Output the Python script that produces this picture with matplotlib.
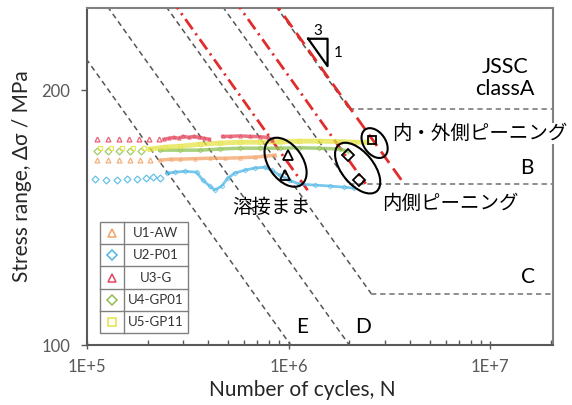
import numpy as np
import matplotlib
matplotlib.use('Agg')
import matplotlib.pyplot as plt
from matplotlib.patches import Ellipse, Rectangle
from matplotlib.transforms import ScaledTranslation
from matplotlib.ticker import FixedLocator, FixedFormatter, LogLocator, NullLocator, NullFormatter

plt.rcParams['font.family'] = ['Lato', 'Noto Sans CJK JP', 'DejaVu Sans']

# JSSC design curves (strength at 2e6 cycles, constant amplitude cut-off)
jssc_classes = ['A', 'B', 'C', 'D', 'E']
jssc_delta_f = [190, 155, 125, 100, 80]
jssc_cutoff = [190, 155, 115, 84, 62]

# fitted lines of test results (strength at 2e6, last cycle count)
fit_delta_f = [130, 165, 191]
fit_n_end = [1.25e6, 2.41e6, 3.63e6]

# measured stress range histories
u1_n = [1.12e5, 1.27e5, 1.44e5, 1.63e5, 1.83e5, 2.05e5,
        2.30e5, 2.60e5, 2.88e5, 3.43e5, 4.06e5, 4.82e5, 5.72e5, 6.79e5, 7.61e5, 8.53e5]
u1_s = [165.3, 165.3, 165.3, 165.3, 165.3, 165.3,
        165.3, 165.8, 165.8, 166.0, 166.2, 166.2, 166.4, 166.7, 167.1, 167.6]
u1_sparse = 6

u2_n = [1.10e5, 1.24e5, 1.41e5, 1.58e5, 1.77e5, 1.96e5, 2.12e5, 2.30e5,
        2.49e5, 2.73e5, 3.06e5, 3.50e5, 3.75e5, 4.06e5, 4.30e5, 4.66e5, 4.99e5, 5.40e5,
        6.06e5, 6.79e5, 7.61e5, 8.24e5, 9.02e5, 1.01e6, 1.13e6, 1.35e6, 1.60e6, 1.89e6, 2.12e6]
u2_s = [157.0, 156.6, 156.6, 157.0, 157.0, 157.4, 157.8, 157.4,
        159.6, 160.0, 160.4, 160.0, 156.6, 154.1, 152.4, 154.1, 157.4, 159.6,
        160.9, 161.8, 162.2, 160.9, 158.7, 156.6, 154.9, 154.5, 154.1, 153.6, 153.2]
u2_sparse = 8

u3_n = [1.12e5, 1.27e5, 1.44e5, 1.61e5, 1.81e5, 2.03e5, 2.27e5,
        2.41e5, 2.55e5, 2.70e5, 2.85e5, 3.00e5, 3.20e5, 3.40e5, 3.60e5, 3.80e5, 4.05e5,
        np.nan, 4.71e5, 5.10e5, 5.72e5, 6.41e5, 7.18e5, 7.86e5, 8.30e5]
u3_s = [175.0, 175.0, 175.0, 175.0, 175.0, 175.0, 175.0,
        175.0, 175.5, 175.9, 175.5, 176.4, 175.9, 176.4, 175.9, 175.5, 175.0,
        np.nan, 176.4, 176.4, 176.6, 176.4, 176.2, 175.9, 174.6]
u3_sparse = 7

u4_n = [1.12e5, 1.27e5, 1.44e5, 1.63e5, 1.85e5,
        2.30e5, 2.88e5, 3.63e5, 4.55e5, 5.72e5, 7.18e5, 9.02e5, 1.13e6, 1.42e6, 1.79e6, 1.96e6]
u4_s = [169.5, 169.5, 169.5, 169.5, 169.5,
        169.9, 169.9, 169.9, 170.4, 170.8, 170.8, 170.8, 171.0, 170.8, 170.4, 169.5]
u4_sparse = 5

u5_n = [1.16e5, 1.31e5, 1.50e5, 1.70e5, 1.92e5,
        2.05e5, 2.43e5, 2.88e5, 3.63e5, 4.55e5, 5.72e5, 7.18e5, 9.02e5, 1.13e6, 1.42e6,
        1.79e6, 2.12e6, 2.46e6]
u5_s = [170.8, 170.8, 170.8, 170.8, 170.8,
        170.4, 171.3, 171.7, 172.6, 173.2, 173.6, 173.6, 173.9, 174.1, 174.1,
        173.9, 173.6, 173.6]
u5_sparse = 5

series_labels = ['U1-AW', 'U2-P01', 'U3-G', 'U4-GP01', 'U5-GP11']
series_colors = ['#F2A266', '#4DB6E6', '#E4465E', '#8CC152', '#E3E345']
series_markers = ['^', 'D', '^', 'D', 's']

# failure points
fail_n = [9.88e5, 9.55e5, 1.96e6, 2.24e6, 2.58e6]
fail_s = [167.6, 158.7, 167.6, 156.6, 174.6]
fail_markers = ['^', '^', 'D', 'D', 's']

fig = plt.figure(figsize=(5.72, 4.05), dpi=100)
ax = fig.add_axes([0.152, 0.148, 0.815, 0.832])
ax.set_xscale('log')
ax.set_yscale('log')
ax.set_xlim(1e5, 2.05e7)
ax.set_ylim(100, 250)

# JSSC curves
for f, c in zip(jssc_delta_f, jssc_cutoff):
    n_knee = 2e6 * (f / c) ** 3
    n0 = 1e4
    ax.plot([n0, n_knee], [f * (2e6 / n0) ** (1 / 3), c], color='#555555', lw=1.1,
            dashes=(3.5, 2.5), zorder=2)
    ax.plot([n_knee, 3e7], [c, c], color='#707070', lw=1.1, dashes=(3.5, 2.5), zorder=2)

# fitted lines
fit_styles = [(4.5, 1.8, 0.8, 1.8), (4.5, 1.8, 0.8, 1.8), (5, 2.5)]
for f, ne, ds in zip(fit_delta_f, fit_n_end, fit_styles):
    n0 = 1e5
    ax.plot([n0, ne], [f * (2e6 / n0) ** (1 / 3), f * (2e6 / ne) ** (1 / 3)],
            color='#E32B2B', lw=2.0, dashes=ds, zorder=3)

# measured histories
all_series = [(u2_n, u2_s, u2_sparse, 1), (u1_n, u1_s, u1_sparse, 0), (u4_n, u4_s, u4_sparse, 3),
              (u5_n, u5_s, u5_sparse, 4), (u3_n, u3_s, u3_sparse, 2)]
for n, s, k, i in all_series:
    col = series_colors[i]
    mk = series_markers[i]
    lw = 3.5 if i == 4 else (2.0 if i == 1 else 2.5)
    ax.plot(n[:k], s[:k], ls='none', marker=mk, ms=3.5, mfc='none', mec=col, mew=0.9,
            alpha=0.85, zorder=4)
    ax.plot(n[k:], s[k:], color=col, lw=lw, marker=mk, ms=2.5, mfc='none', mec=col,
            mew=0.6, alpha=0.75, zorder=4)

for n, s, m in zip(fail_n, fail_s, fail_markers):
    ax.plot(n, s, ls='none', marker=m, ms=7 if m == '^' else 6, mfc='none', mec='black',
            mew=1.3, zorder=6)

# ellipses around failure points (sized in inches)
ellipses = [(9.66e5, 164.4, 0.55, 0.34, -55), (2.20e6, 161.8, 0.60, 0.32, -51),
            (2.67e6, 173.2, 0.33, 0.22, -55)]
for n, s, w, h, a in ellipses:
    tr = fig.dpi_scale_trans + ScaledTranslation(n, s, ax.transData)
    ax.add_patch(Ellipse((0, 0), w, h, angle=a, transform=tr, fill=False, ec='black',
                         lw=1.5, zorder=7))

# slope triangle
ax.plot([1.25e6, 1.56e6, 1.56e6, 1.25e6], [230, 230, 213.5, 230], color='black', lw=1.6,
        zorder=5)
ax.text(0.496, 0.932, '3', transform=ax.transAxes, ha='center', va='center', fontsize=11)
ax.text(0.538, 0.866, '1', transform=ax.transAxes, ha='center', va='center', fontsize=11)

# labels
ax.text(0.897, 0.792, 'JSSC\nclassA', transform=ax.transAxes, ha='center', va='center',
        fontsize=15.5, linespacing=1.15)
ax.text(0.944, 0.525, 'B', transform=ax.transAxes, ha='center', va='center', fontsize=15)
ax.text(0.946, 0.202, 'C', transform=ax.transAxes, ha='center', va='center', fontsize=15)
ax.text(0.461, 0.053, 'E', transform=ax.transAxes, ha='center', va='center', fontsize=15)
ax.text(0.592, 0.053, 'D', transform=ax.transAxes, ha='center', va='center', fontsize=15)
ax.text(0.655, 0.629, '内・外側ピーニング', transform=ax.transAxes, ha='left', va='center',
        fontsize=14, bbox=dict(fc='white', ec='none', pad=1), zorder=8)
ax.text(0.632, 0.421, '内側ピーニング', transform=ax.transAxes, ha='left', va='center',
        fontsize=14)
ax.text(0.311, 0.412, '溶接まま', transform=ax.transAxes, ha='left', va='center', fontsize=14)

# table-like legend
lx0, lx1, lxm = 0.0279, 0.2167, 0.0794
ly0, ly1 = 0.0356, 0.365
ax.add_patch(Rectangle((lx0, ly0), lx1 - lx0, ly1 - ly0, transform=ax.transAxes, fc='white',
                       ec='#808080', lw=1.0, zorder=9))
ax.plot([lxm, lxm], [ly0, ly1], transform=ax.transAxes, color='#808080', lw=1.0, zorder=10)
row_h = (ly1 - ly0) / len(series_labels)
for i, lab in enumerate(series_labels):
    yc = ly1 - (i + 0.5) * row_h
    if i > 0:
        ax.plot([lx0, lx1], [ly1 - i * row_h] * 2, transform=ax.transAxes, color='#808080',
                lw=1.0, zorder=10)
    ax.plot([(lx0 + lxm) / 2], [yc], transform=ax.transAxes, ls='none',
            marker=series_markers[i], ms=6 if series_markers[i] != 'D' else 5, mfc='none',
            mec=series_colors[i], mew=1.1, zorder=11)
    ax.text((lxm + lx1) / 2, yc, lab, transform=ax.transAxes, ha='center', va='center',
            fontsize=9.5, color='#333333', zorder=11)

# axes styling
for sp in ax.spines.values():
    sp.set_color('#808080')
    sp.set_linewidth(1.5)
ax.spines['bottom'].set_color('#595959')
ax.spines['left'].set_color('#595959')

ax.xaxis.set_major_locator(FixedLocator([1e5, 1e6, 1e7]))
ax.xaxis.set_major_formatter(FixedFormatter(['1E+5', '1E+6', '1E+7']))
ax.xaxis.set_minor_locator(LogLocator(base=10, subs=np.arange(2, 10)))
ax.xaxis.set_minor_formatter(NullFormatter())
ax.yaxis.set_major_locator(FixedLocator([100, 200]))
ax.yaxis.set_major_formatter(FixedFormatter(['100', '200']))
ax.yaxis.set_minor_locator(NullLocator())
ax.tick_params(axis='x', which='major', direction='inout', length=6, width=1, colors='#595959',
               labelsize=12, pad=7)
ax.tick_params(axis='x', which='minor', direction='in', length=3.5, width=1, colors='#595959')
ax.tick_params(axis='y', which='major', direction='out', length=4, width=1, colors='#595959',
               labelsize=12, pad=8)

fig.text(0.528, 0.036, 'Number of cycles, N', ha='center', va='center', fontsize=15,
         color='#262626')
fig.text(0.038, 0.565, 'Stress range, Δσ / MPa', ha='center', va='center', rotation=90,
         fontsize=15, color='#262626')

fig.savefig('out.png', dpi=100)
plt.close()
